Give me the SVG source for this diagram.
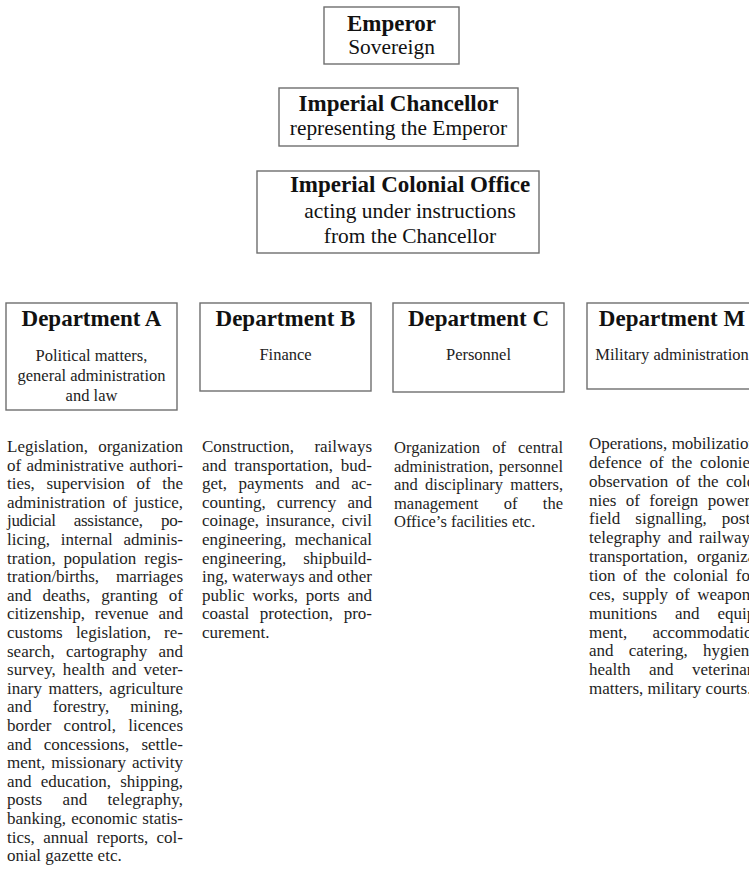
<svg xmlns="http://www.w3.org/2000/svg" width="749" height="872" viewBox="0 0 749 872">
<style>
.box{fill:#fff;stroke:#6e6e6e;stroke-width:1.4}
.h{font-family:"Liberation Serif","Times New Roman",serif;font-weight:bold;font-size:23px;fill:#111;text-anchor:middle}
.s{font-family:"Liberation Serif","Times New Roman",serif;font-size:21.4px;fill:#111;text-anchor:middle}
.ds{font-family:"Liberation Serif","Times New Roman",serif;font-size:16.5px;fill:#222;text-anchor:middle}
.b{font-family:"Liberation Serif","Times New Roman",serif;font-size:17px;fill:#1e1e1e}
.bc{font-family:"Liberation Serif","Times New Roman",serif;font-size:16.5px;fill:#1e1e1e}
</style>
<rect width="749" height="872" fill="#fff"/>
<g id="connectors"/>
<g id="emperor">
<rect class="box" x="324" y="7" width="135" height="57"/>
<text class="h" x="391.5" y="31">Emperor</text>
<text class="s" x="391.5" y="54">Sovereign</text>
</g>
<g id="chancellor">
<rect class="box" x="279" y="88" width="239" height="58"/>
<text class="h" x="398.5" y="111">Imperial Chancellor</text>
<text class="s" x="398.5" y="135">representing the Emperor</text>
</g>
<g id="colonial-office">
<rect class="box" x="257" y="171" width="282" height="82"/>
<text class="h" x="410" y="192">Imperial Colonial Office</text>
<text class="s" x="410" y="218">acting under instructions</text>
<text class="s" x="410" y="243">from the Chancellor</text>
</g>
<g id="dept-a">
<rect class="box" x="6" y="303" width="171" height="107"/>
<text class="h" x="91.5" y="326">Department A</text>
<text class="ds" x="91.5" y="361">Political matters,</text>
<text class="ds" x="91.5" y="381">general administration</text>
<text class="ds" x="91.5" y="401">and law</text>
</g>
<g id="dept-b">
<rect class="box" x="200" y="303" width="171" height="88"/>
<text class="h" x="285.5" y="326">Department B</text>
<text class="ds" x="285.5" y="360">Finance</text>
</g>
<g id="dept-c">
<rect class="box" x="393" y="303" width="171" height="89"/>
<text class="h" x="478.5" y="326">Department C</text>
<text class="ds" x="478.5" y="360">Personnel</text>
</g>
<g id="dept-m">
<rect class="box" x="587" y="303" width="170" height="86"/>
<text class="h" x="672" y="326">Department M</text>
<text class="ds" x="672" y="360">Military administration</text>
</g>
<g id="text-a" class="b">
<text x="7" y="452" word-spacing="6" textLength="176" lengthAdjust="spacing">Legislation, organization</text>
<text x="7" y="470.6" word-spacing="1.1" textLength="176" lengthAdjust="spacing">of administrative authori-</text>
<text x="7" y="489.2" word-spacing="7.37" textLength="176" lengthAdjust="spacing">ties, supervision of the</text>
<text x="7" y="507.8" word-spacing="3.25" textLength="176" lengthAdjust="spacing">administration of justice,</text>
<text x="7" y="526.4" word-spacing="14.3" textLength="176" lengthAdjust="spacing">judicial assistance, po-</text>
<text x="7" y="545" word-spacing="6.55" textLength="176" lengthAdjust="spacing">licing, internal adminis-</text>
<text x="7" y="563.6" word-spacing="3.7" textLength="176" lengthAdjust="spacing">tration, population regis-</text>
<text x="7" y="582.2" word-spacing="12.6" textLength="176" lengthAdjust="spacing">tration/births, marriages</text>
<text x="7" y="600.8" word-spacing="6.73" textLength="176" lengthAdjust="spacing">and deaths, granting of</text>
<text x="7" y="619.4" word-spacing="5.6" textLength="176" lengthAdjust="spacing">citizenship, revenue and</text>
<text x="7" y="638" word-spacing="8.9" textLength="176" lengthAdjust="spacing">customs legislation, re-</text>
<text x="7" y="656.6" word-spacing="7.05" textLength="176" lengthAdjust="spacing">search, cartography and</text>
<text x="7" y="675.2" word-spacing="2.63" textLength="176" lengthAdjust="spacing">survey, health and veter-</text>
<text x="7" y="693.8" word-spacing="2.3" textLength="176" lengthAdjust="spacing">inary matters, agriculture</text>
<text x="7" y="712.4" word-spacing="16.7" textLength="176" lengthAdjust="spacing">and forestry, mining,</text>
<text x="7" y="731" word-spacing="8" textLength="176" lengthAdjust="spacing">border control, licences</text>
<text x="7" y="749.6" word-spacing="7.95" textLength="176" lengthAdjust="spacing">and concessions, settle-</text>
<text x="7" y="768.2" word-spacing="1.8" textLength="176" lengthAdjust="spacing">ment, missionary activity</text>
<text x="7" y="786.8" word-spacing="4.9" textLength="176" lengthAdjust="spacing">and education, shipping,</text>
<text x="7" y="805.4" word-spacing="16" textLength="176" lengthAdjust="spacing">posts and telegraphy,</text>
<text x="7" y="824" word-spacing="0.9" textLength="176" lengthAdjust="spacing">banking, economic statis-</text>
<text x="7" y="842.6" word-spacing="4.07" textLength="176" lengthAdjust="spacing">tics, annual reports, col-</text>
<text x="7" y="861.2">onial gazette etc.</text>
</g>
<g id="text-b" class="b">
<text x="202" y="452" word-spacing="16.1" textLength="170" lengthAdjust="spacing">Construction, railways</text>
<text x="202" y="470.6" word-spacing="3.55" textLength="170" lengthAdjust="spacing">and transportation, bud-</text>
<text x="202" y="489.2" word-spacing="7.27" textLength="170" lengthAdjust="spacing">get, payments and ac-</text>
<text x="202" y="507.8" word-spacing="6.85" textLength="170" lengthAdjust="spacing">counting, currency and</text>
<text x="202" y="526.4" word-spacing="2.4" textLength="170" lengthAdjust="spacing">coinage, insurance, civil</text>
<text x="202" y="545" word-spacing="4.2" textLength="170" lengthAdjust="spacing">engineering, mechanical</text>
<text x="202" y="563.6" word-spacing="12.6" textLength="170" lengthAdjust="spacing">engineering, shipbuild-</text>
<text x="202" y="582.2" word-spacing="-0.3" textLength="170" lengthAdjust="spacing">ing, waterways and other</text>
<text x="202" y="600.8" word-spacing="3.47" textLength="170" lengthAdjust="spacing">public works, ports and</text>
<text x="202" y="619.4" word-spacing="6.4" textLength="170" lengthAdjust="spacing">coastal protection, pro-</text>
<text x="202" y="638">curement.</text>
</g>
<g id="text-c" class="bc">
<text x="394" y="453" word-spacing="8" textLength="169" lengthAdjust="spacing">Organization of central</text>
<text x="394" y="471.6" word-spacing="1.3" textLength="169" lengthAdjust="spacing">administration, personnel</text>
<text x="394" y="490.2" word-spacing="3.15" textLength="169" lengthAdjust="spacing">and disciplinary matters,</text>
<text x="394" y="508.8" word-spacing="21.25" textLength="169" lengthAdjust="spacing">management of the</text>
<text x="394" y="527.4">Office’s facilities etc.</text>
</g>
<g id="text-m" class="b">
<text x="589" y="449" word-spacing="0.4" textLength="172" lengthAdjust="spacing">Operations, mobilization,</text>
<text x="589" y="467.85" word-spacing="3.53" textLength="172" lengthAdjust="spacing">defence of the colonies,</text>
<text x="589" y="486.7" word-spacing="3.37" textLength="172" lengthAdjust="spacing">observation of the colo-</text>
<text x="589" y="505.55" word-spacing="5.1" textLength="172" lengthAdjust="spacing">nies of foreign powers,</text>
<text x="589" y="524.4" word-spacing="10.9" textLength="172" lengthAdjust="spacing">field signalling, posts,</text>
<text x="589" y="543.25" word-spacing="2.65" textLength="172" lengthAdjust="spacing">telegraphy and railways,</text>
<text x="589" y="562.1" word-spacing="4.9" textLength="172" lengthAdjust="spacing">transportation, organiza-</text>
<text x="589" y="580.95" word-spacing="3.35" textLength="172" lengthAdjust="spacing">tion of the colonial for-</text>
<text x="589" y="599.8" word-spacing="3.37" textLength="172" lengthAdjust="spacing">ces, supply of weapons,</text>
<text x="589" y="618.65" word-spacing="13.75" textLength="172" lengthAdjust="spacing">munitions and equip-</text>
<text x="589" y="637.5" word-spacing="20.9" textLength="172" lengthAdjust="spacing">ment, accommodation</text>
<text x="589" y="656.35" word-spacing="10.95" textLength="172" lengthAdjust="spacing">and catering, hygiene,</text>
<text x="589" y="675.2" word-spacing="14.25" textLength="172" lengthAdjust="spacing">health and veterinary</text>
<text x="589" y="694.05">matters, military courts.</text>
</g>
</svg>
